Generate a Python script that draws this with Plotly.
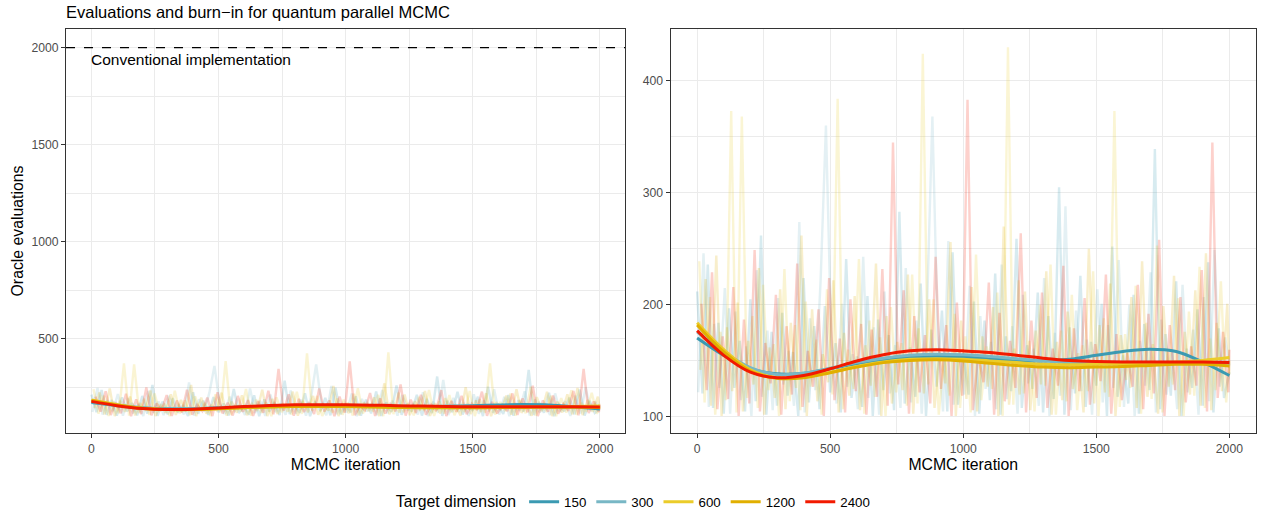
import plotly.graph_objects as go

# ---------------- data ----------------
dims = ["150", "300", "600", "1200", "2400"]
colors = ["#3B9AB2", "#78B7C5", "#EBCC2A", "#E1AF00", "#F21A00"]

# raw oracle-evaluation traces (read roughly every 20 iterations)
raw_step = 20
raw_150 = [212, 121, 236, 108, 184, 103, 197, 126, 168, 105,
           205, 114, 262, 102, 176, 110, 193, 119, 158, 101,
           224, 113, 181, 107, 199, 122, 166, 104, 241, 117,
           154, 109, 208, 101, 187, 124, 173, 106, 283, 112,
           162, 118, 219, 101, 178, 127, 195, 105, 247, 111,
           157, 120, 203, 103, 186, 115, 228, 102, 172, 123,
           259, 108, 164, 125, 211, 104, 190, 116, 305, 102,
           180, 121, 226, 109, 167, 128, 201, 101, 252, 118,
           155, 112, 209, 103, 183, 124, 339, 107, 174, 119,
           221, 101, 161, 126, 196, 110, 238, 104, 179, 117,
           140]
raw_300 = [122, 246, 109, 183, 126, 215, 103, 194, 115, 163,
           101, 231, 118, 177, 106, 206, 129, 159, 110, 274,
           104, 188, 124, 222, 360, 170, 112, 201, 127, 156,
           107, 243, 117, 180, 102, 212, 121, 164, 108, 233,
           113, 186, 103, 198, 368, 172, 105, 257, 111, 158,
           120, 217, 101, 190, 125, 167, 107, 236, 116, 181,
           103, 209, 130, 161, 110, 224, 101, 175, 119, 288,
           106, 195, 123, 169, 102, 214, 113, 182, 126, 240,
           109, 200, 101, 168, 128, 229, 104, 187, 120, 160,
           107, 218, 122, 178, 102, 207, 114, 249, 127, 171,
           146]
raw_600 = [239, 113, 207, 102, 176, 115, 373, 104, 368, 117,
           190, 108, 218, 124, 165, 101, 232, 114, 182, 106,
           203, 127, 169, 102, 214, 120, 384, 107, 160, 125,
           241, 103, 186, 118, 171, 101, 198, 122, 166, 110,
           227, 112, 424, 129, 205, 102, 155, 119, 192, 108,
           172, 104, 245, 115, 163, 125, 211, 101, 430, 111,
           222, 121, 168, 105, 200, 128, 236, 102, 177, 114,
           209, 106, 164, 123, 230, 101, 188, 118, 373, 109,
           174, 126, 217, 103, 184, 116, 253, 104, 158, 129,
           206, 101, 194, 119, 234, 108, 170, 124, 221, 113,
           150]
raw_1200 = [142, 223, 110, 244, 101, 180, 123, 202, 105, 168,
            129, 233, 102, 162, 117, 214, 107, 184, 126, 262,
            101, 196, 114, 156, 131, 222, 104, 175, 119, 208,
            106, 164, 128, 237, 101, 190, 112, 167, 124, 227,
            103, 179, 121, 205, 108, 158, 130, 256, 101, 186,
            116, 216, 105, 172, 127, 198, 101, 270, 111, 161,
            120, 212, 106, 177, 129, 230, 102, 167, 115, 194,
            125, 157, 104, 250, 112, 182, 122, 219, 101, 173,
            133, 207, 108, 239, 118, 165, 103, 199, 127, 226,
            101, 176, 120, 213, 110, 246, 106, 184, 123, 201,
            138]
raw_2400 = [201, 124, 229, 107, 172, 116, 216, 101, 187, 112,
            249, 105, 166, 130, 209, 102, 181, 120, 237, 109,
            159, 127, 196, 101, 224, 115, 170, 104, 205, 123,
            183, 102, 178, 118, 232, 110, 345, 129, 213, 103,
            190, 122, 173, 112, 243, 125, 182, 101, 202, 119,
            383, 106, 155, 131, 220, 102, 193, 114, 168, 126,
            264, 104, 186, 117, 211, 108, 161, 128, 235, 101,
            179, 123, 206, 111, 165, 132, 227, 103, 174, 115,
            157, 127, 218, 107, 192, 121, 258, 101, 182, 124,
            207, 113, 163, 128, 231, 105, 345, 117, 176, 122,
            160]

# smoothed curves (every 100 iterations)
smooth_iter = [0, 100, 200, 300, 400, 500, 600, 700, 800, 900, 1000,
               1100, 1200, 1300, 1400, 1500, 1600, 1700, 1800, 1900, 2000]
smooth_150 = [170.5, 155, 143, 138.5, 139, 143, 147.5, 151, 153.5, 154, 153.5,
              152, 150.5, 150, 151.5, 155, 158.5, 160.5, 158.5, 149, 137]
smooth_300 = [176, 158, 144, 138, 139, 143.5, 148.5, 152.5, 155, 156, 155.5,
              154, 152, 150, 148.5, 148, 148, 148, 148.5, 148.5, 148]
smooth_600 = [184, 160, 142, 135, 135.5, 140, 145, 149, 151.5, 152, 151.5,
              150, 148.5, 147, 146.5, 147, 147.5, 148, 149, 150.5, 153]
smooth_1200 = [182, 158, 141, 134.5, 135, 139.5, 144.5, 148.5, 150.5, 151, 150,
               148, 146, 144.5, 144, 144.5, 145, 146, 147, 147, 145.5]
smooth_2400 = [177, 155, 140, 135, 137, 143, 150, 155.5, 159, 160, 159,
               157.5, 155, 152.5, 150.5, 149.5, 149, 149, 149, 149, 148.5]

conventional = 2000
conventional_label = "Conventional implementation"

raw_series = [raw_150, raw_300, raw_600, raw_1200, raw_2400]
smooth_series = [smooth_150, smooth_300, smooth_600, smooth_1200, smooth_2400]

# ---------------- figure ----------------
FONT = "Liberation Sans, Arial, Helvetica, sans-serif"
fig = go.Figure()

for panel in (1, 2):
    xa = "x" if panel == 1 else "x2"
    ya = "y" if panel == 1 else "y2"
    for k, (vals, col) in enumerate(zip(raw_series, colors)):
        # the series were read at interleaved iterations
        xs = [i * raw_step + k * raw_step // len(raw_series) for i in range(len(vals))]
        xs[-1] = min(xs[-1], 2000)
        fig.add_trace(go.Scatter(
            x=xs, y=vals,
            mode="lines", line=dict(color=col, width=2.4), opacity=0.2,
            showlegend=False, hoverinfo="skip", xaxis=xa, yaxis=ya))
    for name, vals, col in zip(dims, smooth_series, colors):
        fig.add_trace(go.Scatter(
            x=smooth_iter, y=vals, mode="lines", name=name,
            line=dict(color=col, width=3, shape="spline"),
            showlegend=(panel == 1), legendgroup=name,
            xaxis=xa, yaxis=ya))

# dashed reference line in left panel
fig.add_trace(go.Scatter(
    x=[-100, 2100], y=[conventional, conventional], mode="lines",
    line=dict(color="black", width=1.2, dash="dash"),
    showlegend=False, hoverinfo="skip", xaxis="x", yaxis="y"))
fig.add_annotation(x=0, y=conventional, xref="x", yref="y", text=conventional_label,
                   showarrow=False, xanchor="left", yanchor="top", yshift=-1, xshift=-2,
                   font=dict(family=FONT, size=15.5, color="black"))

grid = "#EBEBEB"
common_x = dict(range=[-100, 2100], tickvals=[0, 500, 1000, 1500, 2000],
                showgrid=True, gridcolor=grid, gridwidth=1.2, zeroline=False,
                minor=dict(tickvals=[250, 750, 1250, 1750], showgrid=True,
                           gridcolor=grid, gridwidth=0.6),
                showline=True, linecolor="#333333", linewidth=1, mirror=True,
                ticks="outside", ticklen=4, tickcolor="#333333", automargin=False,
                tickfont=dict(family=FONT, size=12.2, color="#4D4D4D"),
                title=dict(text="MCMC iteration", standoff=3,
                           font=dict(family=FONT, size=15.8, color="black")))
common_y = dict(showgrid=True, gridcolor=grid, gridwidth=1.2, zeroline=False,
                showline=True, linecolor="#333333", linewidth=1, mirror=True,
                ticks="outside", ticklen=4, tickcolor="#333333", automargin=False,
                tickfont=dict(family=FONT, size=12.2, color="#4D4D4D"))

fig.update_layout(
    width=1262, height=513,
    margin=dict(l=66, r=6, t=29, b=80, autoexpand=False),
    paper_bgcolor="white", plot_bgcolor="white",
    font=dict(family=FONT, color="black"),
    title=dict(text="Evaluations and burn\u2212in for quantum parallel MCMC",
               x=66 / 1262, xanchor="left", y=1 - 12 / 513, yanchor="middle",
               font=dict(family=FONT, size=16.5, color="black")),
    xaxis=dict(domain=[0, 0.470], anchor="y", **common_x),
    xaxis2=dict(domain=[0.508, 1.0], anchor="y2", **common_x),
    yaxis=dict(domain=[0, 1], anchor="x", range=[14, 2096],
               tickvals=[500, 1000, 1500, 2000],
               minor=dict(tickvals=[250, 750, 1250, 1750], showgrid=True,
                          gridcolor=grid, gridwidth=0.6),
               title=dict(text="Oracle evaluations", standoff=3,
                          font=dict(family=FONT, size=15.8, color="black")),
               **common_y),
    yaxis2=dict(domain=[0, 1], anchor="x2", range=[85.7, 446.2],
                tickvals=[100, 200, 300, 400],
                minor=dict(tickvals=[150, 250, 350], showgrid=True,
                           gridcolor=grid, gridwidth=0.6),
                **common_y),
    legend=dict(orientation="h", x=0.478, xanchor="center", y=-0.171, yanchor="middle",
                title=dict(text="Target dimension", side="left",
                           font=dict(family=FONT, size=15.8, color="black")),
                font=dict(family=FONT, size=13.3, color="black"),
                bgcolor="rgba(0,0,0,0)", itemwidth=30, tracegroupgap=0),
    hovermode=False,
)

fig.write_html("out.html", config={"displayModeBar": False},
               post_script="document.body.style.margin='0';document.body.style.padding='0';")
